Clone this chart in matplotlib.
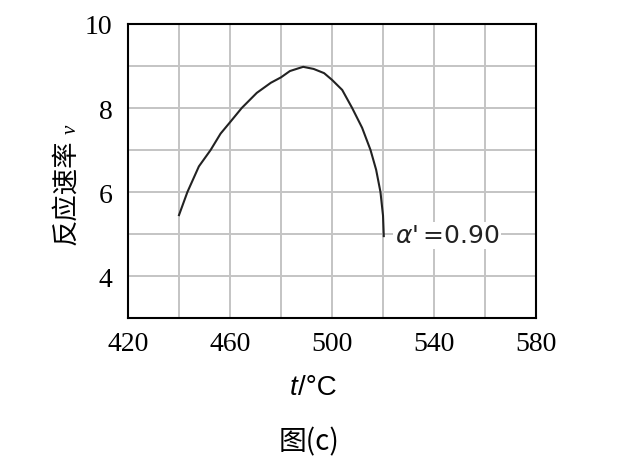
import matplotlib
matplotlib.use("Agg")
import matplotlib.pyplot as plt
import numpy as np

plt.rcParams["mathtext.fontset"] = "dejavusans"

# data
t_vals = [440, 443.3, 447.8, 452.4, 456.3, 460, 464.6, 470.5, 476.0, 480, 483.5, 487.1, 488.7,
          492.8, 496.9, 500, 504, 507.9, 511.8, 515.1, 517.3, 519.0, 520.0, 520.3]
v_vals = [5.45, 6.0, 6.61, 7.0, 7.39, 7.66, 8.0, 8.36, 8.60, 8.73, 8.88, 8.95, 8.98,
          8.93, 8.83, 8.67, 8.43, 8.0, 7.53, 7.0, 6.53, 6.0, 5.44, 4.95]
x_ticks = [420, 460, 500, 540, 580]
y_ticks = [4, 6, 8, 10]
label_text = r"$\alpha$'$\,$=0.90"

fig = plt.figure(figsize=(6.33, 4.77), dpi=100)
ax = fig.add_axes([0.2022, 0.3312, 0.6446, 0.6164])
ax.set_xlim(420, 580)
ax.set_ylim(3, 10)

ax.set_xticks(x_ticks)
ax.set_yticks(y_ticks)
ax.set_xticks(np.arange(420, 581, 20), minor=True)
ax.set_yticks(np.arange(3, 10.1, 1), minor=True)
ax.grid(True, which="both", color="#c4c4c4", linewidth=1.4)
ax.set_axisbelow(True)
ax.tick_params(which="both", length=0, labelsize=20)
ax.tick_params(axis="x", pad=9)
ax.tick_params(axis="y", pad=11)
for lab in ax.get_xticklabels() + ax.get_yticklabels():
    lab.set_family("Liberation Serif")
for s in ax.spines.values():
    s.set_linewidth(1.5)
    s.set_color("black")

ax.plot(t_vals, v_vals, color="#222222", linewidth=1.5)

ax.text(524.6, 4.97, label_text, fontsize=18, family="DejaVu Sans", va="center", ha="left",
        color="#222222", bbox=dict(facecolor="white", edgecolor="none", pad=1))

fig.text(0.103, 0.596, "反应速率", rotation=90, fontsize=19, family=["Noto Sans CJK SC", "DejaVu Sans"],
         ha="center", va="center")
fig.text(0.113, 0.728, "v", rotation=90, fontsize=15, family="Liberation Serif", style="italic",
         ha="center", va="center")
fig.text(0.47, 0.187, "t", fontsize=20, family="Liberation Sans", style="italic", ha="right", va="center")
fig.text(0.47, 0.187, "/°C", fontsize=20, family="Liberation Sans", ha="left", va="center")
fig.text(0.488, 0.073, "图(c)", fontsize=20, family=["Noto Sans CJK SC", "DejaVu Sans"], ha="center", va="center")

fig.savefig("out.png", dpi=100)
